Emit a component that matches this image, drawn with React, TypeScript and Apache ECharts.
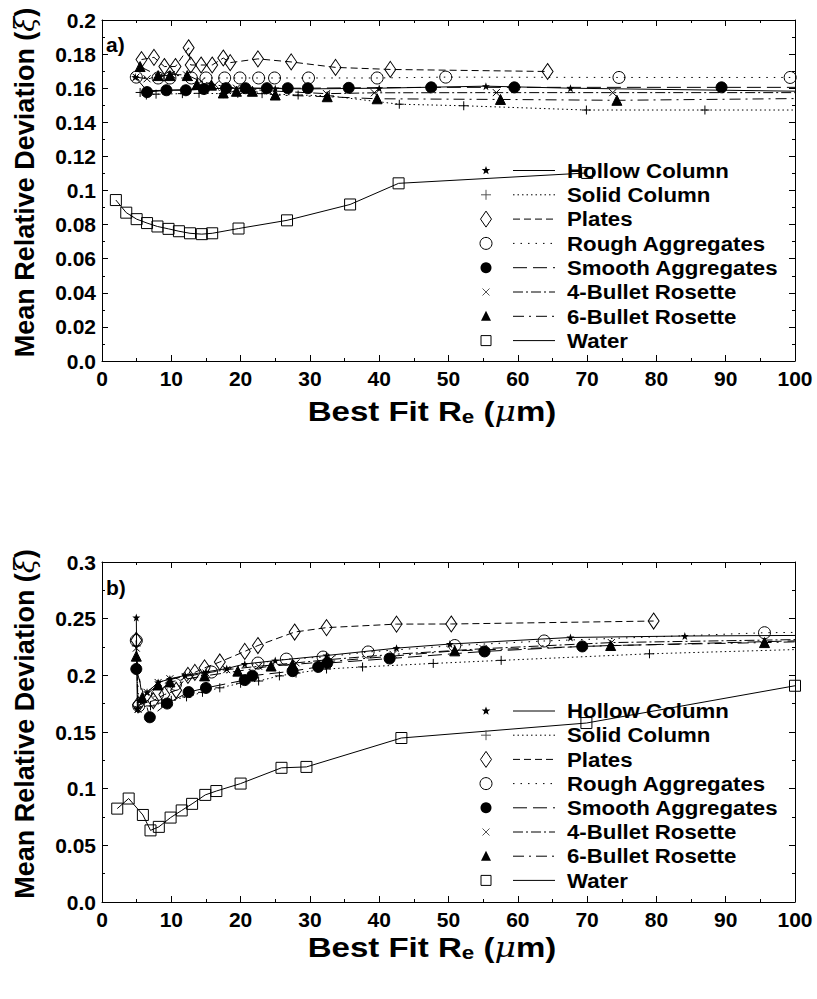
import React, { useEffect, useRef } from 'react';
import * as echarts from 'echarts';

const FONT = '"Liberation Sans", Arial, Helvetica, sans-serif';

const seriesNames = [
  'Hollow Column',
  'Solid Column',
  'Plates',
  'Rough Aggregates',
  'Smooth Aggregates',
  '4-Bullet Rosette',
  '6-Bullet Rosette',
  'Water',
];

// ---------- Panel a) data [Re, xi] ----------
const aHollow: number[][] = [[4.8, 0.1665], [6.5, 0.1585], [9.3, 0.1588], [12.2, 0.1592], [14.7, 0.1596], [18, 0.16], [21, 0.16], [25, 0.1598], [30, 0.1596], [40, 0.16], [55.4, 0.1612], [67.6, 0.16], [110, 0.1577]];
const aSolid: number[][] = [[5.5, 0.1575], [6.4, 0.156], [7.8, 0.1565], [11.6, 0.1568], [14, 0.157], [17.5, 0.1568], [19.6, 0.157], [23.1, 0.1568], [28.3, 0.156], [32.8, 0.1555], [42.9, 0.1506], [52.2, 0.1497], [69.9, 0.1472], [87, 0.1472], [110, 0.1472]];
const aPlates: number[][] = [[5.7, 0.1768], [7.5, 0.1781], [9.0, 0.1727], [10.6, 0.1727], [12.5, 0.1837], [12.8, 0.1736], [14.3, 0.1736], [15.9, 0.1736], [17.5, 0.1777], [18.5, 0.175], [22.5, 0.1772], [27.3, 0.1754], [33.7, 0.1722], [41.6, 0.171], [64.3, 0.1698]];
const aRough: number[][] = [[4.95, 0.1665], [8.1, 0.166], [9.8, 0.166], [12.9, 0.166], [15, 0.166], [17.7, 0.166], [19.9, 0.166], [22.6, 0.166], [24.9, 0.166], [29.8, 0.166], [39.7, 0.166], [49.6, 0.1665], [74.6, 0.1663], [99.3, 0.1663], [110, 0.1663]];
const aSmooth: number[][] = [[6.5, 0.1577], [9.3, 0.1588], [12.1, 0.1588], [14.7, 0.1595], [17.9, 0.16], [20.7, 0.16], [23.8, 0.16], [26.8, 0.16], [29.7, 0.16], [35.6, 0.1602], [47.5, 0.1605], [59.5, 0.1605], [89.4, 0.1605], [110, 0.1605]];
const a4Bullet: number[][] = [[4.9, 0.1665], [6.5, 0.1655], [8.2, 0.1665], [10, 0.168], [12.2, 0.1678], [14.3, 0.164], [16.3, 0.162], [19.4, 0.16], [24, 0.1585], [32.4, 0.1568], [39.3, 0.1573], [56.9, 0.1574], [73.7, 0.1574], [110, 0.1574]];
const a6Bullet: number[][] = [[5.5, 0.1727], [8.1, 0.1674], [9.8, 0.1674], [12.3, 0.1674], [13.7, 0.1621], [15.8, 0.1618], [17.5, 0.1572], [19.4, 0.1582], [21.7, 0.1582], [25, 0.156], [32.5, 0.155], [39.7, 0.1538], [57.5, 0.1534], [74.3, 0.1529], [110, 0.1543]];
const aWater: number[][] = [[2, 0.0944], [3.5, 0.087], [5, 0.0832], [6.5, 0.0809], [8, 0.0789], [9.6, 0.0775], [11.1, 0.0761], [12.7, 0.0749], [14.4, 0.0744], [15.9, 0.0749], [19.7, 0.0777], [26.7, 0.0825], [35.8, 0.0918], [42.8, 0.1042], [70, 0.1103]];

// ---------- Panel b) data [Re, xi] ----------
const bHollow: number[][] = [[4.95, 0.251], [5.1, 0.1704], [6.5, 0.185], [8.1, 0.1937], [9.8, 0.1968], [12, 0.2], [15, 0.203], [18, 0.206], [20.6, 0.21], [25, 0.213], [32.4, 0.2175], [42.5, 0.224], [50.2, 0.2276], [67.6, 0.2334], [84.1, 0.2347], [110, 0.2355]];
const bSolid: number[][] = [[4.95, 0.226], [5.2, 0.172], [7, 0.173], [8.6, 0.1755], [10, 0.178], [12.2, 0.181], [14.5, 0.185], [17, 0.189], [20, 0.193], [22.6, 0.195], [25.6, 0.1995], [28, 0.202], [32.4, 0.2056], [37.6, 0.2074], [47.8, 0.2105], [57.6, 0.2132], [79, 0.219], [110, 0.2245]];
const bPlates: number[][] = [[4.95, 0.231], [5.2, 0.174], [7.4, 0.1776], [9, 0.183], [10.7, 0.1868], [12.4, 0.2], [13.4, 0.2026], [14.8, 0.2066], [17, 0.2118], [20.6, 0.2211], [22.5, 0.2263], [27.8, 0.2382], [32.4, 0.2421], [42.5, 0.2452], [50.4, 0.2453], [79.6, 0.2479]];
const bRough: number[][] = [[4.95, 0.2307], [5.3, 0.173], [8, 0.183], [10.6, 0.192], [15.8, 0.2029], [22.5, 0.2108], [26.6, 0.2143], [31.9, 0.2161], [38.4, 0.2206], [50.9, 0.2263], [63.8, 0.2303], [95.6, 0.2376], [110, 0.2385]];
const bSmooth: number[][] = [[4.95, 0.2056], [6.9, 0.163], [9.4, 0.1751], [12.5, 0.1852], [15, 0.1889], [20.6, 0.1958], [21.7, 0.1997], [27.5, 0.2037], [31.2, 0.2074], [32.5, 0.2108], [41.5, 0.2148], [55.2, 0.2211], [69.3, 0.2255], [110, 0.232]];
const b4Bullet: number[][] = [[4.95, 0.224], [5.2, 0.17], [6.5, 0.185], [8.1, 0.1937], [9.8, 0.197], [12, 0.199], [15, 0.202], [18, 0.205], [22.6, 0.208], [28, 0.211], [33, 0.214], [42, 0.2185], [55, 0.2235], [73.5, 0.2289], [110, 0.2325]];
const b6Bullet: number[][] = [[4.95, 0.2169], [5.8, 0.1804], [8.1, 0.1915], [9.8, 0.1942], [14.8, 0.1995], [19.6, 0.2037], [24.4, 0.2082], [27.5, 0.2095], [50.9, 0.2216], [73.4, 0.2263], [95.6, 0.2289], [110, 0.231]];
const bWater: number[][] = [[2.2, 0.0824], [3.85, 0.0913], [5.9, 0.0768], [7.0, 0.0632], [8.2, 0.0663], [9.9, 0.0745], [11.5, 0.0808], [13.0, 0.0866], [14.9, 0.0945], [16.5, 0.0979], [20.0, 0.1045], [25.9, 0.1184], [29.5, 0.1192], [43.2, 0.1447], [69.9, 0.1579], [100, 0.1908]];

const panelAData = [aHollow, aSolid, aPlates, aRough, aSmooth, a4Bullet, a6Bullet, aWater];
const panelBData = [bHollow, bSolid, bPlates, bRough, bSmooth, b4Bullet, b6Bullet, bWater];

// ---------- styles ----------
const STAR_PATH = 'path://M10,0L12.35,6.76L19.51,6.91L13.8,11.24L15.88,18.09L10,14L4.12,18.09L6.2,11.24L0.49,6.91L7.65,6.76Z';
const PLUS_PATH = 'path://M5,0L5,10M0,5L10,5';
const CROSS_PATH = 'path://M0,0L10,10M10,0L0,10';

const styles: any[] = [
  { symbol: STAR_PATH, size: 8, filled: true, dash: 'solid' },
  { symbol: PLUS_PATH, size: 9, filled: false, dash: [1.5, 3] },
  { symbol: 'diamond', size: [11, 16], filled: false, dash: [7, 4] },
  { symbol: 'circle', size: 12, filled: false, dash: [1.5, 6] },
  { symbol: 'circle', size: 11, filled: true, dash: [14, 6] },
  { symbol: CROSS_PATH, size: 7, filled: false, dash: [10, 3, 2, 3] },
  { symbol: 'triangle', size: 10, filled: true, dash: [11, 5, 2, 5] },
  { symbol: 'rect', size: 11, filled: false, dash: 'solid' },
];

const GRID_LEFT = 102;
const GRID_WIDTH = 693;

function makeSeries(data: number[][], i: number, axisIdx: number) {
  const st = styles[i];
  return {
    type: 'line',
    name: seriesNames[i] + (axisIdx === 0 ? ' a' : ' b'),
    data,
    xAxisIndex: axisIdx,
    yAxisIndex: axisIdx,
    symbol: st.symbol,
    symbolSize: st.size,
    showSymbol: true,
    showAllSymbol: true,
    clip: true,
    silent: true,
    lineStyle: { color: '#000', width: 1, type: st.dash },
    itemStyle: {
      color: st.filled ? '#000' : 'rgba(0,0,0,0)',
      borderColor: '#000',
      borderWidth: st.filled && i === 0 ? 0 : 1,
    },
    z: 3,
  };
}

function xAxis(gridIndex: number, position: string, main: boolean) {
  return {
    type: 'value',
    gridIndex,
    position,
    min: 0,
    max: 100,
    interval: 10,
    axisLine: { show: true, onZero: false, lineStyle: { color: '#000', width: 1 } },
    axisTick: { show: true, inside: true, length: 6, lineStyle: { color: '#000' } },
    minorTick: { show: true, splitNumber: 2, length: 3, lineStyle: { color: '#000' } },
    splitLine: { show: false },
    axisLabel: main
      ? { show: true, fontSize: 21, fontWeight: 'bold', fontFamily: FONT, color: '#000', margin: 7 }
      : { show: false },
  };
}

function yFormat(v: number) {
  if (Math.abs(v) < 1e-9) return '0.0';
  return String(Math.round(v * 1000) / 1000);
}

function yAxis(gridIndex: number, position: string, main: boolean, max: number, interval: number) {
  return {
    type: 'value',
    gridIndex,
    position,
    min: 0,
    max,
    interval,
    axisLine: { show: true, onZero: false, lineStyle: { color: '#000', width: 1 } },
    axisTick: { show: true, inside: true, length: 6, lineStyle: { color: '#000' } },
    minorTick: { show: true, splitNumber: 2, length: 3, lineStyle: { color: '#000' } },
    splitLine: { show: false },
    axisLabel: main
      ? { show: true, fontSize: 21, fontWeight: 'bold', fontFamily: FONT, color: '#000', margin: 6, formatter: yFormat }
      : { show: false },
    name: main ? 'Mean Relative Deviation ({g|\u03be})' : '',
    nameLocation: 'middle',
    nameRotate: 90,
    nameGap: 64,
    nameTextStyle: {
      fontSize: 27,
      fontWeight: 'bold',
      fontFamily: FONT,
      color: '#000',
      padding: [0, 0, 0, 16],
      rich: {
        g: { fontSize: 27, fontStyle: 'italic', fontWeight: 'normal', fontFamily: '"DejaVu Serif", serif', color: '#000' },
      },
    },
  };
}

function starPoints(cx: number, cy: number, R: number, r: number) {
  const pts: number[][] = [];
  for (let k = 0; k < 10; k++) {
    const ang = (-90 + k * 36) * Math.PI / 180;
    const rad = k % 2 === 0 ? R : r;
    pts.push([cx + rad * Math.cos(ang), cy + rad * Math.sin(ang)]);
  }
  return pts;
}

function markerEls(i: number, cx: number, cy: number): any[] {
  const s = { stroke: '#000', lineWidth: 1, fill: 'none' };
  const f = { fill: '#000', stroke: 'none' };
  switch (i) {
    case 0:
      return [{ type: 'polygon', shape: { points: starPoints(cx, cy, 4.5, 1.9) }, style: f, z: 100 }];
    case 1:
      return [
        { type: 'line', shape: { x1: cx - 5, y1: cy, x2: cx + 5, y2: cy }, style: { stroke: '#555', lineWidth: 1 }, z: 100 },
        { type: 'line', shape: { x1: cx, y1: cy - 5, x2: cx, y2: cy + 5 }, style: { stroke: '#555', lineWidth: 1 }, z: 100 },
      ];
    case 2:
      return [{ type: 'polygon', shape: { points: [[cx, cy - 8], [cx + 5.5, cy], [cx, cy + 8], [cx - 5.5, cy]] }, style: s, z: 100 }];
    case 3:
      return [{ type: 'circle', shape: { cx, cy, r: 6 }, style: s, z: 100 }];
    case 4:
      return [{ type: 'circle', shape: { cx, cy, r: 5.5 }, style: f, z: 100 }];
    case 5:
      return [
        { type: 'line', shape: { x1: cx - 3.5, y1: cy - 3.5, x2: cx + 3.5, y2: cy + 3.5 }, style: { stroke: '#555', lineWidth: 1 }, z: 100 },
        { type: 'line', shape: { x1: cx + 3.5, y1: cy - 3.5, x2: cx - 3.5, y2: cy + 3.5 }, style: { stroke: '#555', lineWidth: 1 }, z: 100 },
      ];
    case 6:
      return [{ type: 'polygon', shape: { points: [[cx, cy - 5.5], [cx + 5, cy + 4.5], [cx - 5, cy + 4.5]] }, style: f, z: 100 }];
    default:
      return [{ type: 'rect', shape: { x: cx - 5, y: cy - 5, width: 10, height: 10 }, style: s, z: 100 }];
  }
}

function legendEls(top: number, step: number): any[] {
  const out: any[] = [];
  styles.forEach((st, i) => {
    const cy = top + i * step;
    out.push(...markerEls(i, 486, cy));
    const ls: any = { stroke: '#000', lineWidth: 1 };
    if (st.dash !== 'solid') ls.lineDash = st.dash;
    out.push({ type: 'line', shape: { x1: 513, y1: cy, x2: 555, y2: cy }, style: ls, z: 100 });
    out.push({
      type: 'text',
      x: 567,
      y: cy,
      scaleX: 1.06,
      style: {
        text: seriesNames[i],
        fontSize: 21,
        fontWeight: 'bold',
        fontFamily: FONT,
        fill: '#000',
        align: 'left',
        verticalAlign: 'middle',
      },
      z: 100,
    });
  });
  return out;
}

function xTitle(cy: number) {
  return {
    type: 'text',
    x: 432,
    y: cy,
    scaleX: 1.18,
    style: {
      text: 'Best Fit R{s|e} ({g|\u03bc}m)',
      fontSize: 28,
      fontWeight: 'bold',
      fontFamily: FONT,
      fill: '#000',
      align: 'center',
      verticalAlign: 'middle',
      lineHeight: 30,
      rich: {
        s: { fontSize: 19, fontWeight: 'bold', fontFamily: FONT, fill: '#000', verticalAlign: 'bottom', lineHeight: 19 },
        g: { fontSize: 28, fontStyle: 'italic', fontWeight: 'normal', fontFamily: '"DejaVu Serif", serif', fill: '#000', lineHeight: 30 },
      },
    },
    z: 100,
  };
}

export default function App() {
  const ref = useRef<HTMLDivElement>(null);

  useEffect(() => {
    if (!ref.current) return;
    const chart = echarts.init(ref.current, undefined, { renderer: 'svg' });
    const series: any[] = [];
    panelAData.forEach((d, i) => series.push(makeSeries(d, i, 0)));
    panelBData.forEach((d, i) => series.push(makeSeries(d, i, 2)));
    const option: any = {
      animation: false,
      backgroundColor: '#fff',
      grid: [
        { left: GRID_LEFT, top: 20, width: GRID_WIDTH, height: 341, containLabel: false },
        { left: GRID_LEFT, top: 562, width: GRID_WIDTH, height: 340, containLabel: false },
      ],
      xAxis: [xAxis(0, 'bottom', true), xAxis(0, 'top', false), xAxis(1, 'bottom', true), xAxis(1, 'top', false)],
      yAxis: [
        yAxis(0, 'left', true, 0.2, 0.02),
        yAxis(0, 'right', false, 0.2, 0.02),
        yAxis(1, 'left', true, 0.3, 0.05),
        yAxis(1, 'right', false, 0.3, 0.05),
      ],
      series,
      graphic: {
        elements: [
          {
            type: 'text',
            x: 106,
            y: 44,
            style: { text: 'a)', fontSize: 21, fontWeight: 'bold', fontFamily: FONT, fill: '#000', verticalAlign: 'middle' },
            z: 100,
          },
          {
            type: 'text',
            x: 106,
            y: 587,
            style: { text: 'b)', fontSize: 21, fontWeight: 'bold', fontFamily: FONT, fill: '#000', verticalAlign: 'middle' },
            z: 100,
          },
          ...legendEls(170.5, 24.3),
          ...legendEls(711, 24.2),
          xTitle(411),
          xTitle(947),
        ],
      },
    };
    chart.setOption(option);
    return () => chart.dispose();
  }, []);

  return (
    <div
      ref={ref}
      style={{ position: 'absolute', left: 0, top: 0, width: 817, height: 999, background: '#fff' }}
    />
  );
}
